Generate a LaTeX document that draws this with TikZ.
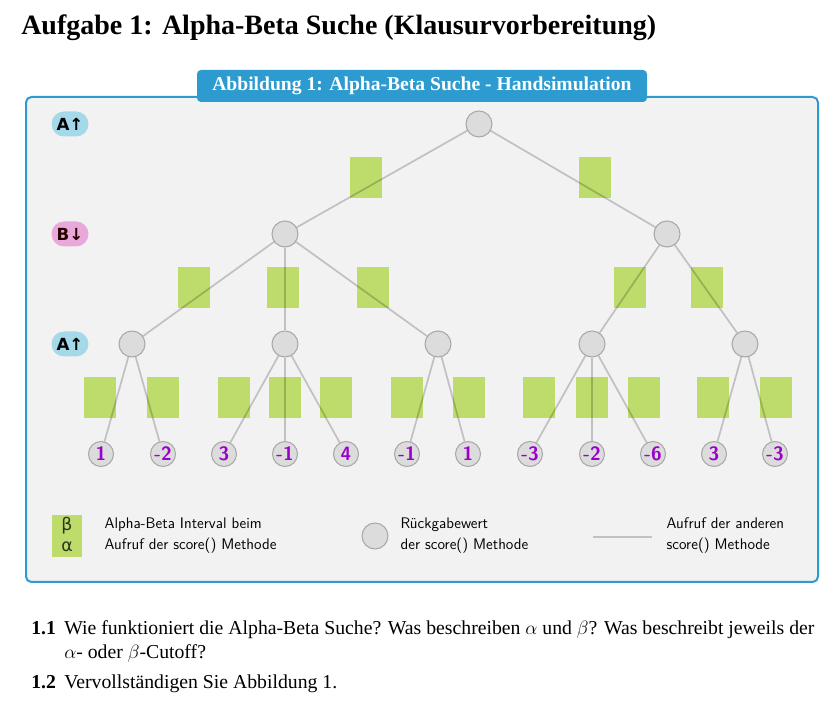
\documentclass[tikz,border=0pt]{standalone}
\usepackage{fontspec}
\setmainfont{Liberation Serif}
\newfontfamily\labelfont{DejaVu Sans}
\usetikzlibrary{shapes.misc}

\definecolor{frameblue}{HTML}{2E9BD0}
\definecolor{panelgrey}{HTML}{F2F2F2}
\definecolor{intgreen}{HTML}{BDDC6B}
\definecolor{nodegrey}{HTML}{DCDCDC}
\definecolor{nodeborder}{HTML}{A8A8A8}
\definecolor{leafpurple}{HTML}{9B00CC}
\definecolor{maxcyan}{HTML}{A3D9E8}
\definecolor{minpink}{HTML}{E8A8DA}

\tikzset{
  interval/.style={fill=intgreen, draw=none, inner sep=0pt,
    minimum width=24pt, minimum height=30.75pt},
  val/.style={circle, fill=nodegrey, draw=nodeborder, line width=0.8pt,
    minimum size=19.5pt, inner sep=0pt},
  leaf/.style={val, minimum size=18.75pt, text=leafpurple,
    font=\sffamily\bfseries\fontsize{14.5}{14.5}\selectfont},
  call/.style={draw=black, draw opacity=0.2, line width=1.3pt},
  level/.style={rounded rectangle, draw=none, inner sep=0pt,
    minimum width=27.75pt, minimum height=18.75pt,
    font=\labelfont\bfseries\fontsize{12.5}{12.5}\selectfont},
  legendtext/.style={anchor=west, align=left,
    font=\sffamily\fontsize{11.5}{15.75}\selectfont},
  greek/.style={inner sep=0pt, text=black!75!intgreen,
    font=\labelfont\fontsize{13}{13}\selectfont},
  question/.style={anchor=base west, inner sep=0pt,
    font=\fontsize{14.8}{16}\selectfont},
  qnum/.style={question, font=\bfseries\fontsize{14.8}{16}\selectfont},
}

\begin{document}
\begin{tikzpicture}[x=0.75pt, y=-0.75pt]
  \useasboundingbox (0,0) rectangle (840,712);

  % heading
  \node[anchor=base west, inner sep=0pt, font=\bfseries\fontsize{21}{21}\selectfont]
    (heading) at (21,35) {Aufgabe 1: Alpha-Beta Suche (Klausurvorbereitung)};

  % figure panel
  \draw[frameblue, line width=1.5pt, fill=panelgrey, rounded corners=4pt]
    (26,97) rectangle (818,582);
  \node[fill=frameblue, rounded corners=3pt, text=white, inner sep=0pt,
        minimum width=337.5pt, minimum height=24pt,
        font=\bfseries\fontsize{14.7}{14.7}\selectfont]
    (caption) at (422,86) {Abbildung 1: Alpha-Beta Suche - Handsimulation};

  % player labels per level
  \node[level, fill=maxcyan] (lvA1) at (70,124) {A↑};
  \node[level, fill=minpink, text=black!85!red] (lvB) at (70,234) {B↓};
  \node[level, fill=maxcyan] (lvA2) at (70,344) {A↑};

  % alpha-beta interval boxes
  \foreach \x in {366,595} \node[interval] at (\x,178) {};
  \foreach \x in {194,283,373,630,707} \node[interval] at (\x,288) {};
  \foreach \x in {100,163,234,285,336,407,469,539,592,644,713,776}
    \node[interval] at (\x,398) {};

  % inner nodes
  \node[val] (r)  at (479,124) {};
  \node[val] (b1) at (285,234) {};
  \node[val] (b2) at (667,234) {};
  \node[val] (a1) at (132,344) {};
  \node[val] (a2) at (285,344) {};
  \node[val] (a3) at (438,344) {};
  \node[val] (a4) at (592,344) {};
  \node[val] (a5) at (745,344) {};

  % leaves
  \node[leaf] (l1)  at (101,454) {1};
  \node[leaf] (l2)  at (163,454) {-2};
  \node[leaf] (l3)  at (224,454) {3};
  \node[leaf] (l4)  at (285,454) {-1};
  \node[leaf] (l5)  at (346,454) {4};
  \node[leaf] (l6)  at (407,454) {-1};
  \node[leaf] (l7)  at (468,454) {1};
  \node[leaf] (l8)  at (530,454) {-3};
  \node[leaf] (l9)  at (592,454) {-2};
  \node[leaf] (l10) at (653,454) {-6};
  \node[leaf] (l11) at (714,454) {3};
  \node[leaf] (l12) at (775,454) {-3};

  % calls
  \draw[call] (r) -- (b1);  \draw[call] (r) -- (b2);
  \draw[call] (b1) -- (a1); \draw[call] (b1) -- (a2); \draw[call] (b1) -- (a3);
  \draw[call] (b2) -- (a4); \draw[call] (b2) -- (a5);
  \draw[call] (a1) -- (l1); \draw[call] (a1) -- (l2);
  \draw[call] (a2) -- (l3); \draw[call] (a2) -- (l4); \draw[call] (a2) -- (l5);
  \draw[call] (a3) -- (l6); \draw[call] (a3) -- (l7);
  \draw[call] (a4) -- (l8); \draw[call] (a4) -- (l9); \draw[call] (a4) -- (l10);
  \draw[call] (a5) -- (l11); \draw[call] (a5) -- (l12);

  % legend
  \node[interval, minimum width=22.5pt, minimum height=31.5pt] (legbox) at (67,536) {};
  \node[greek] (legbeta)  at (67,526) {β};
  \node[greek] (legalpha) at (67,547) {α};
  \node[legendtext] (legboxtext) at (100,536)
    {Alpha-Beta Interval beim\\Aufruf der score() Methode};
  \node[val] (legcircle) at (375,536) {};
  \node[legendtext] (legcircletext) at (396,536)
    {Rückgabewert\\der score() Methode};
  \coordinate (legL) at (593,537);
  \coordinate (legR) at (652,537);
  \draw[call] (legL) -- (legR);
  \node[legendtext] (leglinetext) at (662,536)
    {Aufruf der anderen\\score() Methode};

  % questions
  \node[qnum] (q1n) at (31,635) {1.1};
  \node[question] (q1a) at (64,635)
    {Wie funktioniert die Alpha-Beta Suche? Was beschreiben $\alpha$ und $\beta$? Was beschreibt jeweils der};
  \node[question] (q1b) at (64,659) {$\alpha$- oder $\beta$-Cutoff?};
  \node[qnum] (q2n) at (31,689) {1.2};
  \node[question] (q2a) at (64,689) {Vervollständigen Sie Abbildung 1.};
\end{tikzpicture}
\end{document}
